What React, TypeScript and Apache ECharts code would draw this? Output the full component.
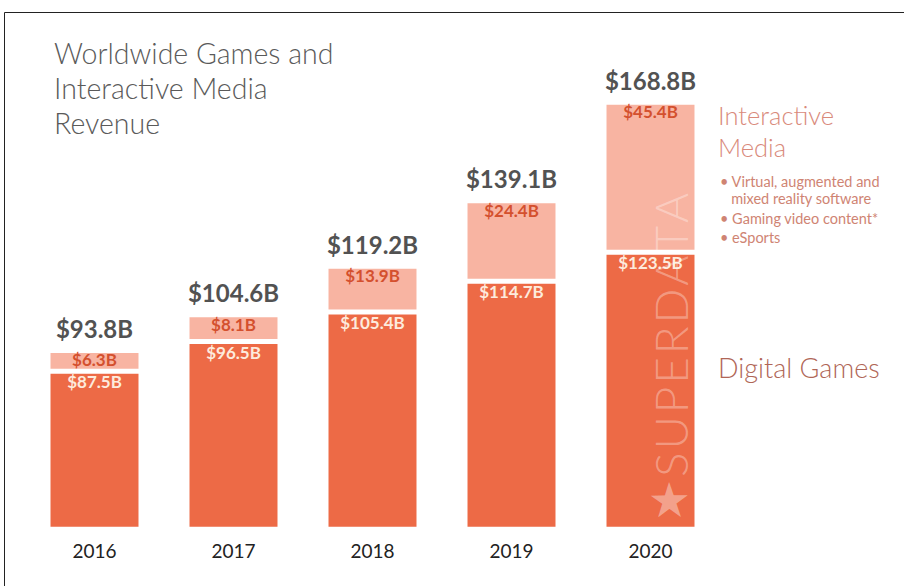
import React, { useEffect, useRef } from "react";
import * as echarts from "echarts";

const years = ["2016", "2017", "2018", "2019", "2020"];
const digitalGames = [87.5, 96.5, 105.4, 114.7, 123.5];
const interactiveMedia = [6.3, 8.1, 13.9, 24.4, 45.4];
const totals = [93.8, 104.6, 119.2, 139.1, 168.8];
const titleText = "Worldwide Games and\nInteractive Media\nRevenue";
const mediaTitle = "Interactive\nMedia";
const mediaBullets = [
  "• Virtual, augmented and",
  "   mixed reality software",
  "• Gaming video content*",
  "• eSports",
];
const gamesTitle = "Digital Games";

const FONT = "Lato";
const DARK = "#ED6A46";
const LIGHT = "#F8B4A2";
const fmt = (v: number) => `$${v.toFixed(1)}B`;

export default function App() {
  const ref = useRef<HTMLDivElement>(null);
  useEffect(() => {
    if (!ref.current) return;
    const chart = echarts.init(ref.current, undefined, { renderer: "svg" });
    const bulletY = [181, 198, 218, 237];
    chart.setOption({
      animation: false,
      backgroundColor: "#ffffff",
      grid: { left: 25, width: 695, top: 100, bottom: 58 },
      xAxis: {
        type: "category",
        data: years,
        axisLine: { show: false },
        axisTick: { show: false },
        axisLabel: {
          color: "#222",
          fontFamily: FONT,
          fontSize: 19,
          margin: 13,
        },
      },
      yAxis: {
        type: "value",
        min: 40.1,
        max: 169.55,
        show: false,
        splitLine: { show: false },
      },
      series: [
        {
          name: "Digital Games",
          type: "bar",
          stack: "rev",
          barWidth: 93,
          data: digitalGames,
          itemStyle: { color: DARK, borderColor: "#fff", borderWidth: 2.5 },
          label: {
            show: true,
            position: "insideTop",
            distance: 2,
            color: "#FDEBDD",
            fontFamily: FONT,
            fontWeight: "bold",
            fontSize: 17,
            formatter: (p: any) => fmt(p.value),
          },
        },
        {
          name: "Interactive Media",
          type: "bar",
          stack: "rev",
          barWidth: 93,
          data: interactiveMedia,
          itemStyle: { color: LIGHT, borderColor: "#fff", borderWidth: 2.5 },
          label: {
            show: true,
            position: "insideTop",
            distance: 1,
            color: "#D4502E",
            fontFamily: FONT,
            fontWeight: "bold",
            fontSize: 17,
            formatter: (p: any) => fmt(p.value),
          },
        },
        {
          name: "Total",
          type: "bar",
          barWidth: 93,
          barGap: "-100%",
          silent: true,
          data: totals,
          itemStyle: { color: "rgba(0,0,0,0)", borderWidth: 0 },
          label: {
            show: true,
            position: "top",
            distance: 10,
            color: "#525252",
            fontFamily: FONT,
            fontWeight: "bold",
            fontSize: 24,
            formatter: (p: any) => fmt(p.value),
          },
          z: 1,
        },
      ],
      graphic: [
        { type: "line", shape: { x1: 4.5, y1: 12.5, x2: 904, y2: 12.5 }, style: { stroke: "#222", lineWidth: 1 }, silent: true },
        { type: "line", shape: { x1: 4.5, y1: 12.5, x2: 4.5, y2: 586 }, style: { stroke: "#222", lineWidth: 1 }, silent: true },
        {
          type: "text",
          left: 54,
          top: 35,
          style: {
            text: titleText,
            fill: "#5a5a5a",
            font: `300 28.5px ${FONT}`,
            lineHeight: 35,
          },
        },
        {
          type: "text",
          left: 718,
          top: 99,
          style: {
            text: mediaTitle,
            fill: "#D98A7B",
            font: `300 25.5px ${FONT}`,
            lineHeight: 32,
          },
        },
        ...mediaBullets.map((t, i) => ({
          type: "text",
          x: 720,
          y: bulletY[i],
          style: {
            text: t,
            fill: "#CF8473",
            font: `14.5px ${FONT}`,
            textVerticalAlign: "middle",
          },
        })),
        {
          type: "text",
          x: 718,
          y: 367,
          style: {
            text: gamesTitle,
            fill: "#B06656",
            font: `300 27px ${FONT}`,
            textVerticalAlign: "middle",
          },
        },
        {
          type: "text",
          x: 670,
          y: 335,
          rotation: Math.PI / 2,
          z: 10,
          silent: true,
          style: {
            text: "S\u200AU\u200AP\u200AE\u200AR\u200AD\u200AA\u200AT\u200AA",
            fill: "rgba(255,255,255,0.33)",
            font: `300 46px ${FONT}`,
            textAlign: "center",
            textVerticalAlign: "middle",
          },
        },
        {
          type: "text",
          x: 668,
          y: 501,
          rotation: Math.PI / 2 - 0.3,
          z: 10,
          silent: true,
          style: {
            text: "★",
            fill: "rgba(255,255,255,0.4)",
            font: `48px "DejaVu Sans"`,
            textAlign: "center",
            textVerticalAlign: "middle",
          },
        },
      ],
    });
    return () => chart.dispose();
  }, []);
  return (
    <div
      ref={ref}
      style={{ position: "absolute", left: 0, top: 0, width: 904, height: 586 }}
    />
  );
}
